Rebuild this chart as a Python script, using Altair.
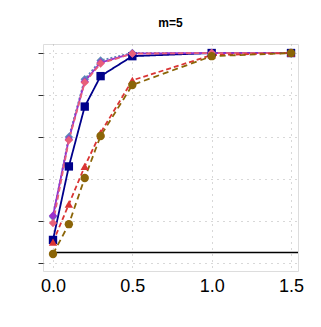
import altair as alt
import pandas as pd

x_vals = [0.0, 0.1, 0.2, 0.3, 0.5, 1.0, 1.5]
series_names = ["A", "B", "C", "D", "E", "F"]
navy_vals = [0.11, 0.46, 0.745, 0.89, 0.985, 1.0, 1.0]
steel_vals = [0.22, 0.60, 0.875, 0.965, 1.0, 1.0, 1.0]
purple_vals = [0.225, 0.59, 0.865, 0.955, 0.998, 1.0, 1.0]
pink_vals = [0.19, 0.585, 0.86, 0.95, 0.997, 1.0, 1.0]
red_vals = [0.10, 0.28, 0.46, 0.62, 0.87, 0.99, 1.0]
olive_vals = [0.043, 0.185, 0.405, 0.605, 0.848, 0.985, 1.0]
ref_level = [0.05]

colors = ["#00008B", "#5E86B8", "#9932CC", "#E8607A", "#DA3434", "#8B6508"]
shapes = ["square", "diamond", "diamond", "diamond", "triangle-up", "circle"]
dashes = [[1, 0], [2, 2], [1, 0], [5, 3], [5, 3], [6, 4]]
sizes = [70, 70, 35, 70, 120, 60]

rows = []
for name, vals in zip(series_names, [navy_vals, steel_vals, purple_vals, pink_vals, red_vals, olive_vals]):
    for xv, yv in zip(x_vals, vals):
        rows.append({"x": xv, "y": yv, "s": name})
df = pd.DataFrame(rows)

xs = alt.Scale(domain=[-0.063, 1.544], nice=False, zero=False)
ys = alt.Scale(domain=[-0.038, 1.043], nice=False, zero=False)
cs = alt.Scale(domain=series_names, range=colors)
ss = alt.Scale(domain=series_names, range=shapes)
ds = alt.Scale(domain=series_names, range=dashes)
zs = alt.Scale(domain=series_names, range=sizes)

xax = alt.Axis(values=[0.0, 0.5, 1.0, 1.5], format=".1f", ticks=False, labelFontSize=18,
               labelColor="black", labelPadding=6, labelFont="Liberation Sans",
               grid=True, gridDash=[1, 5], gridColor="#b0b0b0", domain=False, title=None)
yax = alt.Axis(values=[0, 0.2, 0.4, 0.6, 0.8, 1.0], labels=False, ticks=True, tickSize=5,
               tickColor="#333333", grid=True, gridDash=[1, 5], gridColor="#b0b0b0",
               domain=False, title=None)

base = alt.Chart(df)
lines = base.mark_line(strokeWidth=1.8, clip=True).encode(
    x=alt.X("x:Q", scale=xs, axis=xax),
    y=alt.Y("y:Q", scale=ys, axis=yax),
    color=alt.Color("s:N", scale=cs, legend=None),
    strokeDash=alt.StrokeDash("s:N", scale=ds, legend=None),
    detail="s:N",
)
points = base.mark_point(filled=True, opacity=1, clip=True).encode(
    x=alt.X("x:Q", scale=xs),
    y=alt.Y("y:Q", scale=ys),
    color=alt.Color("s:N", scale=cs, legend=None),
    shape=alt.Shape("s:N", scale=ss, legend=None),
    size=alt.Size("s:N", scale=zs, legend=None),
)
ref = alt.Chart(pd.DataFrame({"y": ref_level, "x": [0.0], "x2": [1.544]})).mark_rule(
    color="black", strokeWidth=1.5).encode(
    x=alt.X("x:Q", scale=xs), x2="x2:Q", y=alt.Y("y:Q", scale=ys))

chart = alt.layer(ref, lines, points).properties(
    width=255, height=227,
    autosize=alt.AutoSizeParams(type="none"),
    padding={"left": 35, "top": 36, "right": 10, "bottom": 40},
    title=alt.TitleParams("m=5", fontSize=12, fontWeight="bold", font="Liberation Sans",
                          anchor="middle", offset=14, color="black"),
).configure_view(stroke="#222222", strokeWidth=1.2).configure(background="white")

chart.save("out.html", embed_options={"renderer": "svg", "actions": False})
